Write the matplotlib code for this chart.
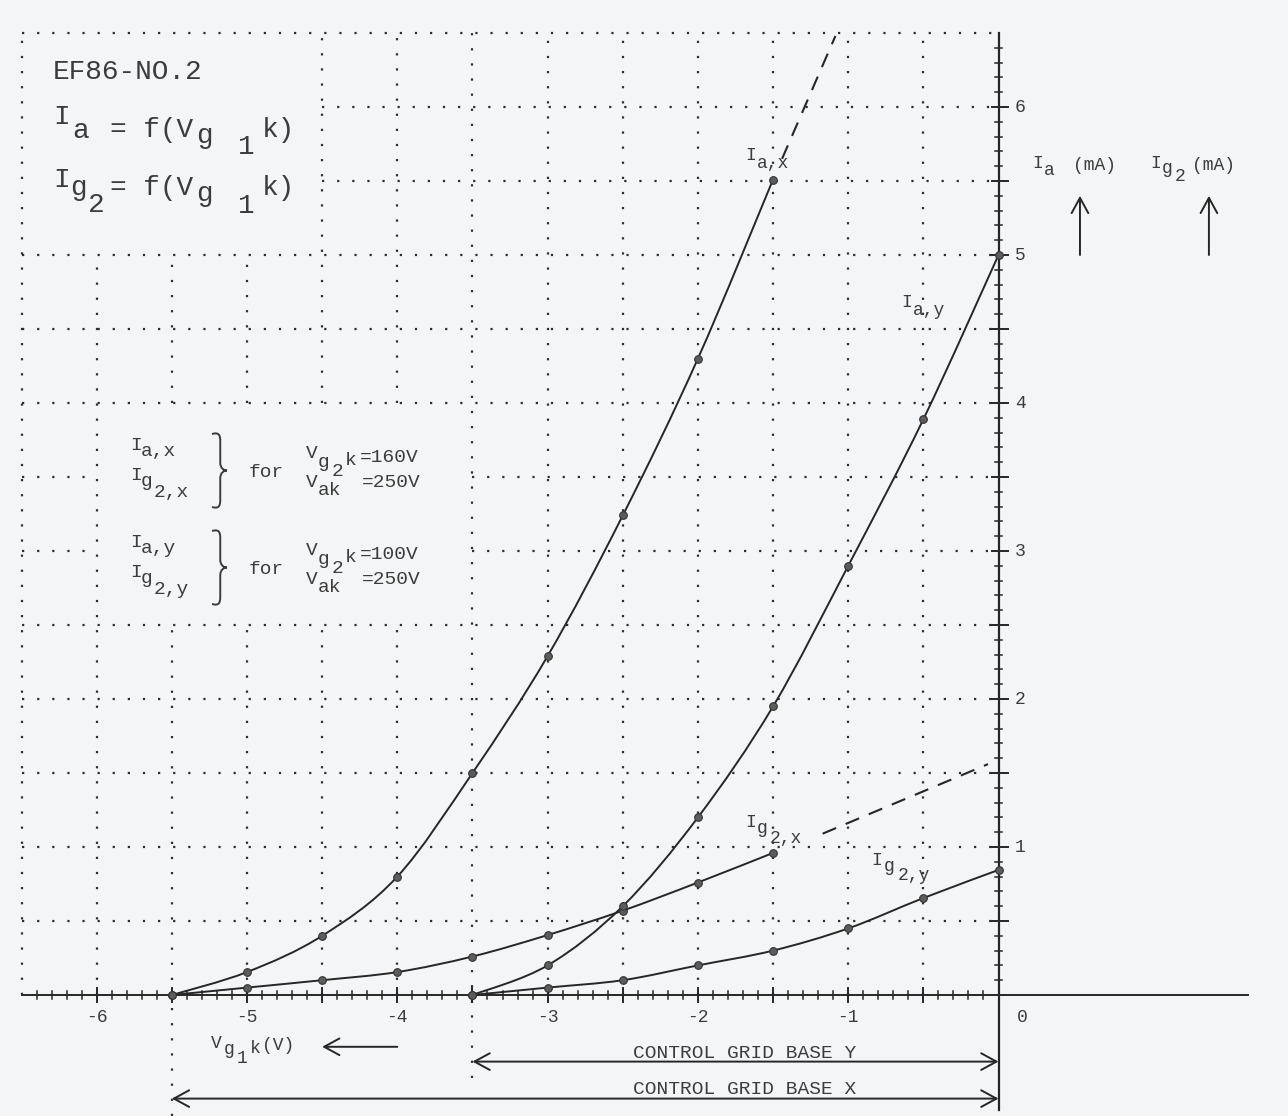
import numpy as np
import matplotlib
matplotlib.use("Agg")
import matplotlib.pyplot as plt
from matplotlib.path import Path
from matplotlib.patches import PathPatch
from matplotlib.transforms import Affine2D

# ---------------- data ----------------
vg1k_x = [-5.5, -5.0, -4.5, -4.0, -3.5, -3.0, -2.5, -2.0, -1.5]
ia_x = [0.0, 0.155, 0.40, 0.80, 1.50, 2.29, 3.24, 4.30, 5.51]
ig2_x = [0.0, 0.05, 0.10, 0.155, 0.26, 0.405, 0.57, 0.76, 0.96]

vg1k_y = [-3.5, -3.0, -2.5, -2.0, -1.5, -1.0, -0.5, 0.0]
ia_y = [0.0, 0.20, 0.60, 1.20, 1.95, 2.90, 3.89, 5.00]
ig2_y = [0.0, 0.05, 0.10, 0.20, 0.30, 0.45, 0.655, 0.845]

# dashed extrapolations
ia_x_ext_v = [-1.44, -1.085]
ia_x_ext = [5.65, 6.48]
ig2_x_ext_v = [-1.17, -0.07]
ig2_x_ext = [1.09, 1.56]

xtick_vals = [-6, -5, -4, -3, -2, -1]
xtick_labels = ["-6", "-5", "-4", "-3", "-2", "-1"]
ytick_vals = [1, 2, 3, 4, 5, 6]
ytick_labels = ["1", "2", "3", "4", "5", "6"]

# ---------------- style ----------------
W, H = 1288, 1116
BG = "#f3f5f6"
INK = "#262626"
TXT = "#3c3c3c"
GRID = "#2e2e2e"
FONT = "Liberation Mono"

fig = plt.figure(figsize=(W / 100, H / 100), dpi=100, facecolor=BG)
ax = fig.add_axes([0, 0, 1, 1])
ax.set_facecolor(BG)
# pixel mapping: px = 998.5 + 150.3*x ; py = 995 - 148*y
ax.set_xlim(-998.5 / 150.3, (W - 998.5) / 150.3)
ax.set_ylim(-(H - 995) / 148.0, 995 / 148.0)
ax.axis("off")

PX = Affine2D().scale(1, -1).translate(0, H)  # image-pixel coords (top-left origin)


def T(px, py, s, size=12, **kw):
    ax.text(px, py, s, transform=PX, fontsize=size, family=FONT, color=TXT,
            ha=kw.pop("ha", "left"), va=kw.pop("va", "baseline"), **kw)


# ---------------- dotted grid ----------------
grid_x = np.arange(-6.5, -0.25, 0.5)
grid_y = np.arange(0.5, 6.51, 0.5)
blank = [(-6.5, -4.5, 5.0, 6.5), (-6.0, -3.5, 2.5, 4.0)]
ext_bottom = {-5.5: -0.82, -3.5: -0.56}
dot = dict(color=GRID, lw=1.6, linestyle=(0, (1, 5.8)), solid_capstyle="butt")


def cut(lo, hi, gaps):
    segs = [(lo, hi)]
    for g0, g1 in gaps:
        new = []
        for a, b in segs:
            if g1 <= a or g0 >= b:
                new.append((a, b))
            else:
                if g0 > a:
                    new.append((a, g0))
                if g1 < b:
                    new.append((g1, b))
        segs = new
    return segs


for gx in grid_x:
    gaps = [(b[2], b[3]) for b in blank if b[0] < gx - 1e-9 and gx + 1e-9 < b[1]]
    lo = ext_bottom.get(round(gx, 2), 0.0)
    for a, b in cut(lo, 6.5, gaps):
        ax.plot([gx, gx], [a, b], **dot)
for gy in grid_y:
    gaps = [(b[0], b[1]) for b in blank if b[2] < gy - 1e-9 and gy + 1e-9 < b[3]]
    for a, b in cut(-6.5, 0.0, gaps):
        ax.plot([a, b], [gy, gy], **dot)

# ---------------- axes with ticks ----------------
ax.plot([-6.5, 1.66], [0, 0], color=INK, lw=1.4)
ax.plot([0, 0], [-0.78, 6.5], color=INK, lw=1.6)

for v in np.arange(-6.4, -0.05, 0.1):
    major = abs(v * 2 - round(v * 2)) < 1e-6
    h = 0.047 if major else 0.024
    ax.plot([v, v], [-h, h], color=INK, lw=1.1 if not major else 1.4)
for v in np.arange(0.1, 6.45, 0.1):
    major = abs(v * 2 - round(v * 2)) < 1e-6
    l, r = (0.04, 0.06) if major else (0.023, 0.023)
    ax.plot([-l, r], [v, v], color=INK, lw=1.1 if not major else 1.4)

for v, s in zip(xtick_vals, xtick_labels):
    ax.text(v, -0.15, s, fontsize=13, family=FONT, color=TXT, ha="center", va="center")
ax.text(0.155, -0.15, "0", fontsize=13, family=FONT, color=TXT, ha="center", va="center")
for v, s in zip(ytick_vals, ytick_labels):
    ax.text(0.11, v, s, fontsize=13, family=FONT, color=TXT, ha="left", va="center")


# ---------------- curves ----------------
def smooth_path(xs, ys):
    p = np.column_stack([xs, ys]).astype(float)
    n = len(p)
    verts, codes = [p[0]], [Path.MOVETO]
    for i in range(n - 1):
        p0 = p[i - 1] if i > 0 else p[i]
        p3 = p[i + 2] if i + 2 < n else p[i + 1]
        c1 = p[i] + (p[i + 1] - p0) / 6.0
        c2 = p[i + 1] - (p3 - p[i]) / 6.0
        verts += [c1, c2, p[i + 1]]
        codes += [Path.CURVE4] * 3
    return Path(verts, codes)


for xs, ys in [(vg1k_x, ia_x), (vg1k_x, ig2_x), (vg1k_y, ia_y), (vg1k_y, ig2_y)]:
    ax.add_patch(PathPatch(smooth_path(xs, ys), fill=False, ec=INK, lw=1.4, zorder=3))
    ax.plot(xs, ys, "o", ms=5.5, color="#5c5c5c", mec="#333333", mew=0.8, zorder=4)

dash = dict(color=INK, lw=1.5, linestyle=(0, (7, 5)), zorder=3)
ax.plot(ia_x_ext_v, ia_x_ext, **dash)
ax.plot(ig2_x_ext_v, ig2_x_ext, **dash)

# ---------------- title block ----------------
S1 = 20
T(53, 79, "EF86-NO.2", S1)
T(53, 124, "I", S1); T(72, 138, "a", S1); T(110, 137, "= f(V", S1)
T(196, 143, "g", S1); T(238, 154, "1", S1); T(262, 137, "k)", S1)
T(53, 187, "I", S1); T(70, 195, "g", S1); T(88, 212, "2", S1); T(110, 195, "= f(V", S1)
T(196, 201, "g", S1); T(238, 213, "1", S1); T(262, 195, "k)", S1)


# ---------------- legend block ----------------
def brace(x0, y_top, y_bot, w=15):
    ym = (y_top + y_bot) / 2.0
    xm = x0 + w * 0.55
    r = 8
    verts = [(x0, y_top + 1),
             (x0 + w * 0.45, y_top - 1), (xm, y_top + 2), (xm, y_top + r),
             (xm, ym - r),
             (xm, ym - 2), (x0 + w * 0.8, ym), (x0 + w, ym),
             (x0 + w * 0.8, ym), (xm, ym + 2), (xm, ym + r),
             (xm, y_bot - r),
             (xm, y_bot - 2), (x0 + w * 0.45, y_bot + 1), (x0, y_bot - 1)]
    codes = [Path.MOVETO,
             Path.CURVE4, Path.CURVE4, Path.CURVE4,
             Path.LINETO,
             Path.CURVE4, Path.CURVE4, Path.CURVE4,
             Path.CURVE4, Path.CURVE4, Path.CURVE4,
             Path.LINETO,
             Path.CURVE4, Path.CURVE4, Path.CURVE4]
    ax.add_patch(PathPatch(Path(verts, codes), fill=False, ec=TXT, lw=1.4,
                           transform=PX))


S2 = 14
for dy, tag, vg2 in [(0, "x", "160V"), (97, "y", "100V")]:
    T(130, 450 + dy, "I", S2); T(141, 456 + dy, "a," + tag, S2)
    T(130, 480 + dy, "I", S2); T(141, 486 + dy, "g", S2); T(154, 497 + dy, "2," + tag, S2)
    brace(212, 433 + dy, 508 + dy)
    T(249, 477 + dy, "for", S2)
    T(306, 458 + dy, "V", S2); T(318, 467 + dy, "g", S2); T(332, 476 + dy, "2", S2)
    T(345, 465 + dy, "k", S2); T(360, 462 + dy, "=" + vg2, S2)
    T(306, 487 + dy, "V", S2); T(318, 495 + dy, "ak", S2); T(362, 487 + dy, "=250V", S2)

# ---------------- curve labels ----------------
S3 = 13
T(745, 160, "I", S3); T(757, 168, "a,x", S3)
T(901, 307, "I", S3); T(913, 315, "a,y", S3)
T(745, 827, "I", S3); T(757, 833, "g", S3); T(770, 843, "2,x", S3)
T(871, 865, "I", S3); T(884, 871, "g", S3); T(898, 880, "2,y", S3)

# ---------------- right-hand axis labels ----------------
T(1032, 168, "I", S3); T(1044, 175, "a", S3); T(1073, 170, "(mA)", S3)
T(1150, 168, "I", S3); T(1162, 173, "g", S3); T(1175, 181, "2", S3); T(1192, 170, "(mA)", S3)
up = dict(arrowstyle="->,head_length=0.55,head_width=0.3", lw=1.4, color=INK,
          shrinkA=0, shrinkB=0, mutation_scale=20)
ax.annotate("", xy=(0.542, 5.40), xytext=(0.542, 5.0), arrowprops=up)
ax.annotate("", xy=(1.40, 5.40), xytext=(1.40, 5.0), arrowprops=up)

# ---------------- bottom labels ----------------
T(211, 1048, "V", S3); T(224, 1054, "g", S3); T(237, 1063, "1", S3)
T(250, 1053, "k", S3); T(262, 1050, "(V)", S3)
ax.annotate("", xy=(-4.5, -0.35), xytext=(-4.0, -0.35), arrowprops=up)

both = dict(arrowstyle="<->,head_length=0.55,head_width=0.3", lw=1.4, color=INK,
            shrinkA=0, shrinkB=0, mutation_scale=20)
ax.annotate("", xy=(-3.5, -0.45), xytext=(0.0, -0.45), arrowprops=both)
ax.annotate("", xy=(-5.5, -0.70), xytext=(0.0, -0.70), arrowprops=both)
T(745, 1053, "CONTROL GRID BASE Y", 14, ha="center", va="center")
T(745, 1090, "CONTROL GRID BASE X", 14, ha="center", va="center")

fig.savefig("out.png", dpi=100, facecolor=BG)
